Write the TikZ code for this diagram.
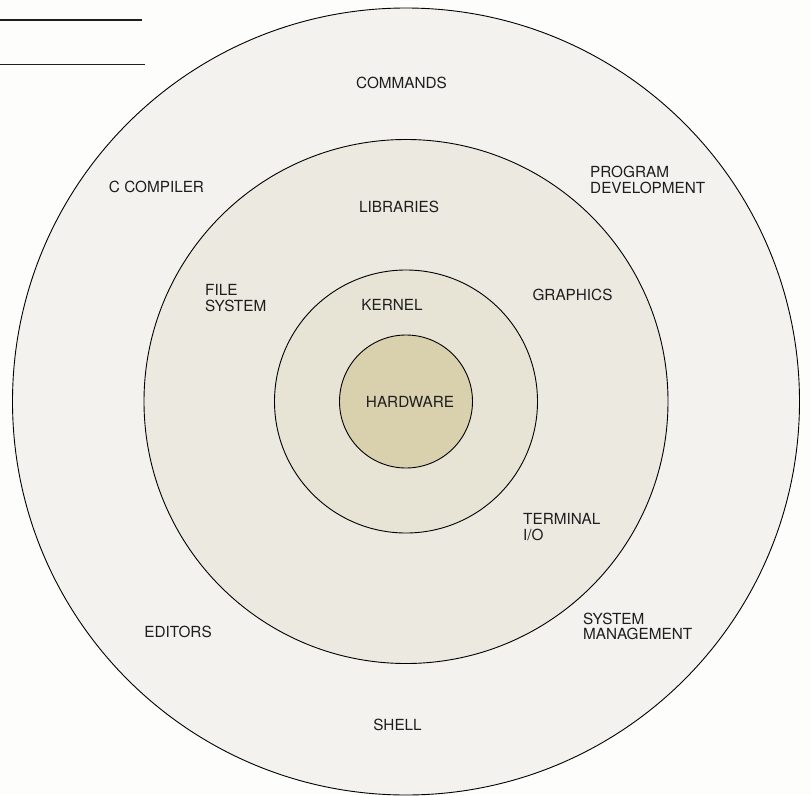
\documentclass[tikz,border=0pt]{standalone}
\usepackage{fontspec}
\setmainfont{TeX Gyre Heros}
\definecolor{bgc}{HTML}{FDFDFC}
\definecolor{ringA}{HTML}{F3F2EE}
\definecolor{ringB}{HTML}{ECE9E1}
\definecolor{ringC}{HTML}{E7E3D5}
\definecolor{coreC}{HTML}{D9D0AE}
\definecolor{inkc}{HTML}{1E1E1E}
\begin{document}
\begin{tikzpicture}[x=1pt,y=-1pt,
  ring/.style={draw=black,line width=0.9pt},
  lbl/.style={inner sep=0pt,text=inkc,font=\fontsize{15.3}{15.5}\selectfont},
  lbll/.style={lbl,anchor=west,align=left}]
\useasboundingbox (0,0) rectangle (811,795);
\fill[bgc] (0,0) rectangle (811,795);
\coordinate (c) at (406,401.5);
\fill[ringA] (c) circle[radius=393.5];
\draw[ring] (c) circle[radius=393.5];
\fill[ringB] (c) circle[radius=262];
\draw[ring] (c) circle[radius=262];
\fill[ringC] (c) circle[radius=131.5];
\draw[ring] (c) circle[radius=131.5];
\fill[coreC] (c) circle[radius=66.5];
\draw[ring] (c) circle[radius=66.5];
% rules at top left
\draw[line width=1.6pt,inkc] (0,20) -- (142,20);
\draw[line width=1pt,inkc] (0,64) -- (145,64);
% labels
\node[lbl] (commands) at (401.5,83) {COMMANDS};
\node[lbl] (ccomp) at (156.5,186.5) {C COMPILER};
\node[lbll] (progdev) at (590,180) {PROGRAM\\DEVELOPMENT};
\node[lbl] (libs) at (399,207) {LIBRARIES};
\node[lbll] (filesys) at (205,298) {FILE\\SYSTEM};
\node[lbl] (kernel) at (392,305) {KERNEL};
\node[lbl] (graphics) at (572.5,294.5) {GRAPHICS};
\node[lbl] (hardware) at (410,401.5) {HARDWARE};
\node[lbll] (termio) at (523,527) {TERMINAL\\I/O};
\node[lbll] (sysman) at (583,626.5) {SYSTEM\\MANAGEMENT};
\node[lbl] (editors) at (178,632) {EDITORS};
\node[lbl] (shell) at (397.5,725) {SHELL};
\end{tikzpicture}
\end{document}
